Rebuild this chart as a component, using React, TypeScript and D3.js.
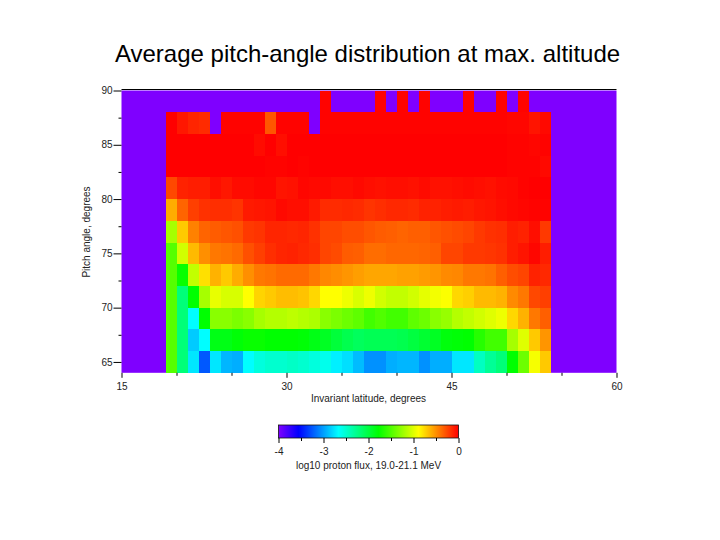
import React, { useEffect, useRef } from 'react';
import * as d3 from 'd3';

// Latitude bin starts (degrees), 1 degree wide
const latitudes = d3.range(19, 54);
// Pitch-angle bin tops (degrees), 2 degrees wide, listed from the top of the plot down
const pitchTops = [90, 88, 86, 84, 82, 80, 78, 76, 74, 72, 70, 68, 66];

const _ = null;
// log10 flux per cell, one array per pitch-angle row, null = no data
const row90 = [_, _, _, _, _, _, _, _, _, _, _, _, _, _, -0.01, _, _, _, _, -0.01, _, -0.01, _, -0.01, _, _, _, -0.01, _, _, -0.01, _, -0.01, _, _];
const row88 = [0, -0.08, -0.13, -0.15, _, -0.01, -0.01, -0.01, -0.01, -0.3, -0.01, -0.01, -0.01, _, -0.01, -0.01, -0.01, -0.01, -0.01, -0.01, -0.01, -0.01, -0.01, -0.01, -0.01, -0.01, -0.01, -0.01, -0.01, -0.01, -0.01, -0.02, -0.02, -0.07, -0.03];
const row86 = [0, 0, 0, 0, 0, 0, 0, 0, -0.04, 0, -0.05, 0, 0, 0, 0, 0, 0, 0, 0, 0, 0, 0, 0, 0, 0, 0, 0, 0, 0, 0, 0, -0.01, -0.01, -0.02, -0.01];
const row84 = [0, 0, 0, 0, 0, 0, 0, 0, 0, -0.01, -0.01, 0, -0.01, 0, 0, 0, 0, 0, 0, 0, 0, 0, 0, 0, 0, 0, 0, 0, 0, 0, 0, -0.01, -0.01, -0.01, -0.03];
const row82 = [-0.25, -0.12, -0.1, -0.1, -0.05, -0.08, -0.04, -0.04, -0.02, -0.02, -0.07, -0.06, -0.02, -0.03, -0.03, -0.05, -0.05, -0.03, -0.05, -0.06, -0.05, -0.05, -0.06, -0.04, -0.06, -0.06, -0.05, -0.04, -0.05, -0.06, -0.04, -0.03, -0.01, 0, 0];
const row80 = [-0.6, -0.35, -0.22, -0.17, -0.16, -0.16, -0.18, -0.09, -0.08, -0.07, -0.03, -0.05, -0.05, -0.09, -0.15, -0.15, -0.14, -0.15, -0.18, -0.16, -0.14, -0.14, -0.15, -0.12, -0.12, -0.1, -0.09, -0.1, -0.08, -0.07, -0.05, -0.03, -0.02, -0.01, -0.01];
const row78 = [-1.2, -0.7, -0.45, -0.35, -0.32, -0.3, -0.28, -0.2, -0.18, -0.13, -0.13, -0.14, -0.13, -0.17, -0.24, -0.24, -0.27, -0.27, -0.3, -0.32, -0.33, -0.35, -0.33, -0.33, -0.3, -0.28, -0.26, -0.24, -0.2, -0.17, -0.16, -0.1, -0.12, -0.05, -0.2];
const row76 = [-1.48, -1.05, -0.65, -0.5, -0.42, -0.4, -0.37, -0.28, -0.22, -0.16, -0.13, -0.12, -0.14, -0.16, -0.24, -0.26, -0.32, -0.33, -0.38, -0.38, -0.36, -0.36, -0.36, -0.35, -0.33, -0.24, -0.24, -0.2, -0.2, -0.19, -0.17, -0.1, -0.07, -0.02, -0.1];
const row74 = [-1.48, -1.75, -1.1, -0.78, -0.62, -0.7, -0.6, -0.5, -0.42, -0.4, -0.37, -0.37, -0.37, -0.42, -0.47, -0.49, -0.52, -0.55, -0.58, -0.58, -0.58, -0.56, -0.56, -0.54, -0.52, -0.48, -0.47, -0.42, -0.42, -0.4, -0.33, -0.27, -0.24, -0.12, -0.14];
const row72 = [-1.48, -2.2, -1.78, -1.2, -0.97, -1.03, -1.03, -0.89, -0.74, -0.7, -0.66, -0.66, -0.68, -0.75, -0.89, -0.89, -0.95, -1.02, -0.95, -1.05, -1.1, -1.1, -1.05, -0.98, -0.93, -0.9, -0.75, -0.72, -0.65, -0.65, -0.62, -0.48, -0.42, -0.25, -0.22];
const row70 = [-1.48, -2.2, -2.67, -1.78, -1.3, -1.3, -1.35, -1.3, -1.2, -1.15, -1.15, -1.12, -1.15, -1.18, -1.3, -1.35, -1.4, -1.45, -1.55, -1.5, -1.55, -1.55, -1.45, -1.4, -1.3, -1.25, -1.15, -1.1, -1.05, -1, -0.95, -0.75, -0.62, -0.42, -0.33];
const row68 = [-1.48, -2.2, -2.85, -2.67, -1.85, -1.85, -1.8, -1.75, -1.75, -1.78, -1.78, -1.78, -1.8, -1.85, -1.9, -1.98, -2.05, -2.1, -2.07, -2.07, -2.07, -2.05, -2, -1.95, -1.9, -1.82, -1.8, -1.78, -1.65, -1.55, -1.55, -1.2, -1, -0.7, -0.52];
const row66 = [-1.48, -2.2, -2.75, -3.25, -2.75, -2.92, -2.95, -2.67, -2.55, -2.5, -2.5, -2.47, -2.5, -2.55, -2.6, -2.72, -2.78, -2.9, -3.05, -3.05, -2.95, -2.92, -2.92, -3.05, -2.95, -2.95, -2.75, -2.75, -2.45, -2.3, -2.2, -1.78, -1.4, -0.92, -0.7];
const rows = [row90, row88, row86, row84, row82, row80, row78, row76, row74, row72, row70, row68, row66];

const xMajor = [15, 30, 45, 60];
const xMinor = [20, 25, 35, 40, 50, 55];
const yMajor = [65, 70, 75, 80, 85, 90];
const yMinor = [67.5, 72.5, 77.5, 82.5, 87.5];
const cbMajor = [-4, -3, -2, -1, 0];
const cbMinor = [-3.5, -2.5, -1.5, -0.5];

const colorStops = [-4, -3.556, -2.667, -1.778, -0.889, 0];
const colorRange = ['#7f00ff', '#0000ff', '#00ffff', '#00ff00', '#ffff00', '#ff0000'];

const FONT = '"Liberation Sans", Arial, sans-serif';

const App: React.FC = () => {
  const svgRef = useRef<SVGSVGElement>(null);

  useEffect(() => {
    if (!svgRef.current) return;
    const svg = d3.select(svgRef.current);
    svg.selectAll('*').remove();

    const x = d3.scaleLinear().domain([15, 60]).range([121.5, 616.5]);
    const y = d3.scaleLinear().domain([64, 90]).range([372.8, 90.5]);
    const color = d3.scaleLinear<string>().domain(colorStops).range(colorRange).clamp(true);

    // Background, the colour of empty cells
    svg.append('rect')
      .attr('x', x(15))
      .attr('y', y(90))
      .attr('width', x(60) - x(15))
      .attr('height', y(64) - y(90))
      .attr('fill', color(-4));

    // Flatten the rows into cells, skipping the empty ones
    const cells = rows.flatMap((row, r) =>
      row.flatMap((value, c) =>
        value === null ? [] : [{ lat: latitudes[c], top: pitchTops[r], value }]
      )
    );

    svg.append('g')
      .attr('shape-rendering', 'crispEdges')
      .selectAll('rect')
      .data(cells)
      .enter()
      .append('rect')
      .attr('x', (d) => x(d.lat))
      .attr('y', (d) => y(d.top))
      .attr('width', (d) => x(d.lat + 1) - x(d.lat))
      .attr('height', (d) => y(d.top - 2) - y(d.top))
      .attr('fill', (d) => color(d.value));

    // Top border
    svg.append('line')
      .attr('x1', x(15))
      .attr('x2', x(60))
      .attr('y1', 89.5)
      .attr('y2', 89.5)
      .attr('stroke', '#000');

    const styleAxis = (g: d3.Selection<SVGGElement, unknown, null, undefined>) => {
      g.select('.domain').remove();
      g.attr('font-family', FONT).attr('font-size', 10);
      g.selectAll('text').attr('fill', '#222');
    };
    const plain = (d: d3.NumberValue) => String(d);

    // Plot axes
    svg.append('g')
      .attr('transform', `translate(0,${y(64)})`)
      .call(d3.axisBottom(x).tickValues(xMajor).tickSize(5).tickPadding(5).tickFormat(plain))
      .call(styleAxis);
    svg.append('g')
      .attr('transform', `translate(0,${y(64)})`)
      .call(d3.axisBottom(x).tickValues(xMinor).tickSize(3).tickFormat(() => ''))
      .call(styleAxis);
    svg.append('g')
      .attr('transform', `translate(${x(15)},0)`)
      .call(d3.axisLeft(y).tickValues(yMajor).tickSize(8).tickPadding(1).tickFormat(plain))
      .call(styleAxis);
    svg.append('g')
      .attr('transform', `translate(${x(15)},0)`)
      .call(d3.axisLeft(y).tickValues(yMinor).tickSize(3).tickFormat(() => ''))
      .call(styleAxis);

    // Colour bar
    const cb = d3.scaleLinear().domain([-4, 0]).range([278.5, 458.5]);
    const cbTop = 425;
    const cbBottom = 438;
    const grad = svg.append('defs').append('linearGradient').attr('id', 'cb-grad');
    grad.selectAll('stop')
      .data(colorStops)
      .enter()
      .append('stop')
      .attr('offset', (d) => (d + 4) / 4)
      .attr('stop-color', (d) => color(d));
    svg.append('rect')
      .attr('x', cb(-4))
      .attr('y', cbTop)
      .attr('width', cb(0) - cb(-4))
      .attr('height', cbBottom - cbTop)
      .attr('fill', 'url(#cb-grad)')
      .attr('stroke', '#111')
      .attr('stroke-width', 0.8);
    svg.append('g')
      .attr('transform', `translate(0,${cbBottom})`)
      .call(d3.axisBottom(cb).tickValues(cbMajor).tickSize(5).tickPadding(5).tickFormat(plain))
      .call(styleAxis);
    svg.append('g')
      .attr('transform', `translate(0,${cbBottom})`)
      .call(d3.axisBottom(cb).tickValues(cbMinor).tickSize(3).tickFormat(() => ''))
      .call(styleAxis);

    // Title and axis labels
    svg.append('text')
      .attr('x', 367.5)
      .attr('y', 62)
      .attr('text-anchor', 'middle')
      .attr('font-family', FONT)
      .attr('font-size', 24)
      .text('Average pitch-angle distribution at max. altitude');

    const label = (tx: number, ty: number, s: string) =>
      svg.append('text')
        .attr('x', tx)
        .attr('y', ty)
        .attr('text-anchor', 'middle')
        .attr('font-family', FONT)
        .attr('font-size', 10)
        .attr('fill', '#222')
        .text(s);
    label(368.5, 402, 'Invariant latitude, degrees');
    label(368.5, 469, 'log10 proton flux, 19.0-21.1 MeV');
    label(0, 0, 'Pitch angle, degrees').attr('transform', 'translate(90,232) rotate(-90)');
  }, []);

  return (
    <svg
      ref={svgRef}
      width={720}
      height={540}
      style={{ position: 'absolute', left: 0, top: 0, background: '#fff' }}
    />
  );
};

export default App;
